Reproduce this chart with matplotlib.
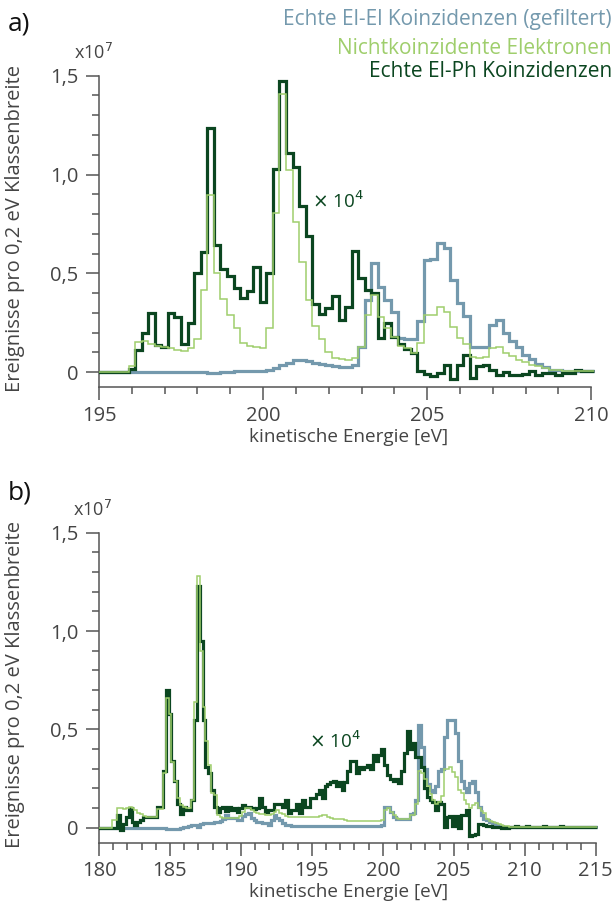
import numpy as np
import matplotlib.pyplot as plt
from matplotlib.ticker import FuncFormatter, MultipleLocator

plt.rcParams['font.family'] = ['Open Sans', 'DejaVu Sans']

# histogram contents in units of 1e7 events per 0.2 eV bin (El-Ph already scaled by 1e4)
# panel a): bin centres 195.0 ... 210.0 eV
a_start, a_stop = 195.0, 210.0
a_elel = [
    0, 0, 0, 0, 0,
    0, 0, 0, 0, 0,
    0, 0, 0, 0, 0,
    0, 0, -0.004, -0.003, 0.0,
    0.002, 0.004, 0.005, 0.006, 0.007,
    0.008, 0.012, 0.02, 0.037, 0.045,
    0.062, 0.062, 0.057, 0.049, 0.042,
    0.037, 0.029, 0.024, 0.024, 0.037,
    0.13, 0.366, 0.555, 0.43, 0.366,
    0.307, 0.173, 0.17, 0.17, 0.257,
    0.568, 0.573, 0.655, 0.627, 0.466,
    0.352, 0.285, 0.13, 0.126, 0.126,
    0.24, 0.265, 0.198, 0.156, 0.127,
    0.088, 0.066, 0.043, 0.026, 0.013,
    0.009, 0.006, 0.005, 0.005, 0.005,
    0.005]
a_nonc = [
    0, 0, 0, 0, 0,
    0.032, 0.155, 0.16, 0.143, 0.135,
    0.125, 0.121, 0.113, 0.108, 0.12,
    0.167, 0.416, 0.899, 0.503, 0.372,
    0.288, 0.226, 0.146, 0.133, 0.13,
    0.12, 0.222, 0.806, 1.41, 1.025,
    0.76, 0.56, 0.365, 0.234, 0.167,
    0.104, 0.07, 0.066, 0.062, 0.07,
    0.13, 0.29, 0.39, 0.278, 0.222,
    0.18, 0.135, 0.121, 0.096, 0.146,
    0.29, 0.29, 0.328, 0.307, 0.228,
    0.172, 0.142, 0.075, 0.072, 0.075,
    0.122, 0.13, 0.097, 0.083, 0.063,
    0.05, 0.038, 0.03, 0.021, 0.013,
    0.009, 0.007, 0.006, 0.006, 0.005,
    0.005]
a_elph = [
    0, 0, 0, 0, 0,
    0.015, 0.113, 0.20, 0.30, 0.14,
    0.126, 0.30, 0.28, 0.143, 0.25,
    0.50, 0.61, 1.237, 0.643, 0.52,
    0.487, 0.424, 0.377, 0.41, 0.53,
    0.354, 0.50, 1.03, 1.471, 1.109,
    1.039, 0.84, 0.69, 0.343, 0.293,
    0.323, 0.387, 0.264, 0.332, 0.613,
    0.475, 0.416, 0.40, 0.175, 0.247,
    0.18, 0.143, 0.116, 0.096, 0.004,
    -0.008, -0.018, -0.004, 0.038, -0.035,
    0.038, 0.088, -0.03, 0.03, 0.035,
    0.013, -0.013, 0, -0.016, -0.013,
    -0.01, 0.004, -0.013, -0.004, -0.004,
    -0.013, -0.004, -0.004, 0.013, 0.004,
    0.004]

# panel b): bin centres 180.0 ... 215.0 eV
b_start, b_stop = 180.0, 215.0
b_elel = [
    0, 0, 0, 0, 0,
    0, 0, 0, 0, 0,
    0, 0, 0, 0, 0,
    0, 0, 0, 0, 0,
    0, 0, 0, 0, -0.008,
    -0.008, -0.008, -0.008, -0.005, 0,
    0.003, 0.005, 0.008, 0.014, 0.014,
    0.002, 0.018, 0.022, 0.022, 0.022,
    0.025, 0.03, 0.03, 0.035, 0.047,
    0.064, 0.052, 0.052, 0.05, 0.04,
    0.04, 0.06, 0.07, 0.073, 0.05,
    0.04, 0.03, 0.03, 0.022, 0.022,
    0.014, 0.04, 0.064, 0.05, 0.04,
    0.022, 0.014, 0.014, 0.008, 0.008,
    0.008, 0.008, 0.008, 0.008, 0.008,
    0.008, 0.008, 0.008, 0.008, 0.008,
    0.008, 0.008, 0.008, 0.008, 0.008,
    0.008, 0.008, 0.008, 0.008, 0.008,
    0.008, 0.008, 0.008, 0.008, 0.008,
    0.008, 0.008, 0.008, 0.008, 0.008,
    0.015, 0.107, 0.107, 0.08, 0.056,
    0.045, 0.042, 0.042, 0.047, 0.047,
    0.07, 0.073, 0.14, 0.52, 0.41,
    0.30, 0.22, 0.19, 0.18, 0.21,
    0.29, 0.30, 0.46, 0.55, 0.55,
    0.55, 0.48, 0.34, 0.24, 0.20,
    0.18, 0.23, 0.24, 0.18, 0.107,
    0.064, 0.047, 0.038, 0.03, 0.022,
    0.015, 0.01, 0.008, 0.006, 0.005,
    0.005, 0.005, 0.005, 0.005, 0.005,
    0.005, 0.005, 0.005, 0.005, 0.005,
    0.005, 0.005, 0.005, 0.005, 0.005,
    0.005, 0.005, 0.005, 0.005, 0.005,
    0.005, 0.005, 0.005, 0.005, 0.005,
    0.005, 0.005, 0.005, 0.005, 0.005,
    0.005]
b_nonc = [
    0, 0, 0, 0, 0,
    0.04, 0.04, 0.10, 0.10, 0.095,
    0.10, 0.103, 0.10, 0.09, 0.075,
    0.07, 0.06, 0.056, 0.056, 0.056,
    0.056, 0.093, 0.093, 0.276, 0.66,
    0.58, 0.335, 0.24, 0.15, 0.115,
    0.107, 0.10, 0.10, 0.14, 0.64,
    1.28, 0.90, 0.615, 0.44, 0.32,
    0.175, 0.165, 0.064, 0.056, 0.05,
    0.05, 0.05, 0.05, 0.05, 0.05,
    0.06, 0.08, 0.10, 0.10, 0.09,
    0.08, 0.075, 0.07, 0.07, 0.065,
    0.064, 0.07, 0.08, 0.09, 0.075,
    0.07, 0.06, 0.056, 0.056, 0.056,
    0.056, 0.056, 0.053, 0.053, 0.053,
    0.053, 0.053, 0.055, 0.06, 0.064,
    0.064, 0.055, 0.05, 0.047, 0.047,
    0.047, 0.045, 0.04, 0.036, 0.036,
    0.036, 0.036, 0.036, 0.036, 0.036,
    0.036, 0.036, 0.036, 0.036, 0.036,
    0.04, 0.09, 0.10, 0.08, 0.064,
    0.05, 0.047, 0.047, 0.047, 0.047,
    0.064, 0.064, 0.12, 0.29, 0.28,
    0.25, 0.21, 0.17, 0.14, 0.12,
    0.13, 0.16, 0.30, 0.30, 0.31,
    0.285, 0.26, 0.19, 0.175, 0.14,
    0.12, 0.10, 0.115, 0.124, 0.10,
    0.085, 0.073, 0.047, 0.035, 0.03,
    0.025, 0.02, 0.015, 0.01, 0.008,
    0.005, 0.005, 0.005, 0.005, 0.005,
    0.005, 0.005, 0.005, 0.005, 0.005,
    0.005, 0.005, 0.005, 0.005, 0.005,
    0.005, 0.005, 0.005, 0.005, 0.005,
    0.005, 0.005, 0.005, 0.005, 0.005,
    0.005, 0.005, 0.005, 0.005, 0.005,
    0.005]
b_elph = [
    0, 0, 0, 0, 0,
    0, 0, 0.065, -0.01, 0.02,
    0.056, 0.10, 0.03, 0.014, 0.03,
    0.04, 0.055, 0.055, 0.055, 0.056,
    0.056, 0.107, 0.107, 0.29, 0.70,
    0.58, 0.34, 0.24, 0.12, 0.07,
    0.107, 0.09, 0.09, 0.14, 0.55,
    1.23, 0.95, 0.55, 0.31, 0.28,
    0.19, 0.107, 0.08, 0.10, 0.107,
    0.086, 0.107, 0.09, 0.10, 0.08,
    0.10, 0.115, 0.107, 0.107, 0.10,
    0.097, 0.10, 0.15, 0.107, 0.08,
    0.09, 0.09, 0.12, 0.12, 0.12,
    0.107, 0.14, 0.073, 0.09, 0.09,
    0.12, 0.073, 0.14, 0.107, 0.107,
    0.15, 0.15, 0.17, 0.19, 0.15,
    0.21, 0.22, 0.234, 0.24, 0.21,
    0.234, 0.19, 0.234, 0.29, 0.34,
    0.34, 0.28, 0.31, 0.30, 0.31,
    0.32, 0.30, 0.37, 0.34, 0.37,
    0.40, 0.32, 0.27, 0.25, 0.24,
    0.25, 0.225, 0.29, 0.38, 0.49,
    0.40, 0.43, 0.36, 0.36, 0.31,
    0.20, 0.158, 0.14, 0.13, 0.09,
    0.13, 0.12, 0.005, 0.055, 0.06,
    0.01, 0.06, 0.0, 0.065, 0.065,
    0.09, -0.04, -0.035, -0.03, 0.02,
    0.02, 0.015, 0.01, 0.01, 0.005,
    0.005, 0.005, 0.0, 0.005, 0.0,
    0.006, 0.002, 0.007, 0.003, 0.006,
    0.004, 0.008, 0.003, 0.005, 0.002,
    0.006, 0.003, 0.007, 0.004, 0.005,
    0.003, 0.006, 0.004, 0.007, 0.003,
    0.005, 0.004, 0.006, 0.003, 0.005,
    0.004, 0.006, 0.003, 0.005, 0.004,
    0.005]

series_names = ['Echte El-El Koinzidenzen (gefiltert)',
                'Nichtkoinzidente Elektronen',
                'Echte El-Ph Koinzidenzen']
c_elel = '#7499ad'
c_nonc = '#9fce6c'
c_elph = '#0b4620'
c_text = '#444444'

ylabel = 'Ereignisse pro 0,2 eV Klassenbreite'
xlabel = 'kinetische Energie [eV]'


def comma_fmt(v, pos):
    if abs(v) < 1e-9:
        return '0'
    return f'{v:.1f}'.replace('.', ',')


def draw_panel(ax, start, stop, elel, nonc, elph, xmajor, note_xy):
    bin_w = 0.2
    centres = np.arange(len(elel)) * bin_w + start
    edges = np.append(centres - bin_w / 2, centres[-1] + bin_w / 2)

    ax.stairs(elel, edges, baseline=None, color=c_elel, lw=2.3, zorder=2)
    ax.stairs(elph, edges, baseline=None, color=c_elph, lw=2.3, zorder=3)
    ax.stairs(nonc, edges, baseline=None, color=c_nonc, lw=1.1, zorder=4)

    ax.set_xlim(start, stop + 0.2)
    ax.set_ylim(-0.075, 1.5)
    ax.spines['bottom'].set_bounds(start, stop)
    for side in ['top', 'right']:
        ax.spines[side].set_visible(False)
    for side in ['left', 'bottom']:
        ax.spines[side].set_color('#555555')
        ax.spines[side].set_linewidth(1.1)

    ax.xaxis.set_major_locator(MultipleLocator(xmajor))
    ax.xaxis.set_minor_locator(MultipleLocator(1))
    ax.yaxis.set_major_locator(MultipleLocator(0.5))
    ax.yaxis.set_minor_locator(MultipleLocator(0.1))
    ax.yaxis.set_major_formatter(FuncFormatter(comma_fmt))
    ax.tick_params(which='major', length=9.5, width=1.1, color='#555555',
                   labelsize=14.5, labelcolor=c_text)
    ax.tick_params(which='minor', length=5, width=1.1, color='#555555')
    ax.tick_params(axis='x', which='major', pad=4)
    ax.tick_params(axis='y', which='major', pad=5.5)

    ax.set_xlabel(xlabel, fontsize=13.6, color=c_text, labelpad=1.5)
    ax.set_ylabel(ylabel, fontsize=14.5, color=c_text)
    ax.yaxis.set_label_coords(-0.148, 0.51)
    ax.text(-0.012, 1.04, r'x10$^7$', transform=ax.transAxes, fontsize=13,
            color=c_text, ha='center', va='bottom')
    ax.text(note_xy[0], note_xy[1], r'$\times$ 10$^4$', fontsize=13.5,
            color=c_elph, ha='left', va='center')


fig = plt.figure(figsize=(6.15, 9.07), dpi=100)
ax_a = fig.add_axes([0.161, 0.5733, 0.811, 0.3432])
ax_b = fig.add_axes([0.161, 0.0711, 0.812, 0.3416])

draw_panel(ax_a, a_start, a_stop, a_elel, a_nonc, a_elph, 5, (201.5, 0.866))
draw_panel(ax_b, b_start, b_stop, b_elel, b_nonc, b_elph, 5, (194.8, 0.44))

fig.text(0.013, 0.974, 'a)', fontsize=19, color='#111111', va='center')
fig.text(0.013, 0.456, 'b)', fontsize=19, color='#111111', va='center')

legend_colors = [c_elel, c_nonc, c_elph]
legend_y = [0.979, 0.947, 0.921]
for name, col, y in zip(series_names, legend_colors, legend_y):
    fig.text(0.995, y, name, fontsize=15, color=col, ha='right', va='center')

fig.savefig('out.png', dpi=100)
